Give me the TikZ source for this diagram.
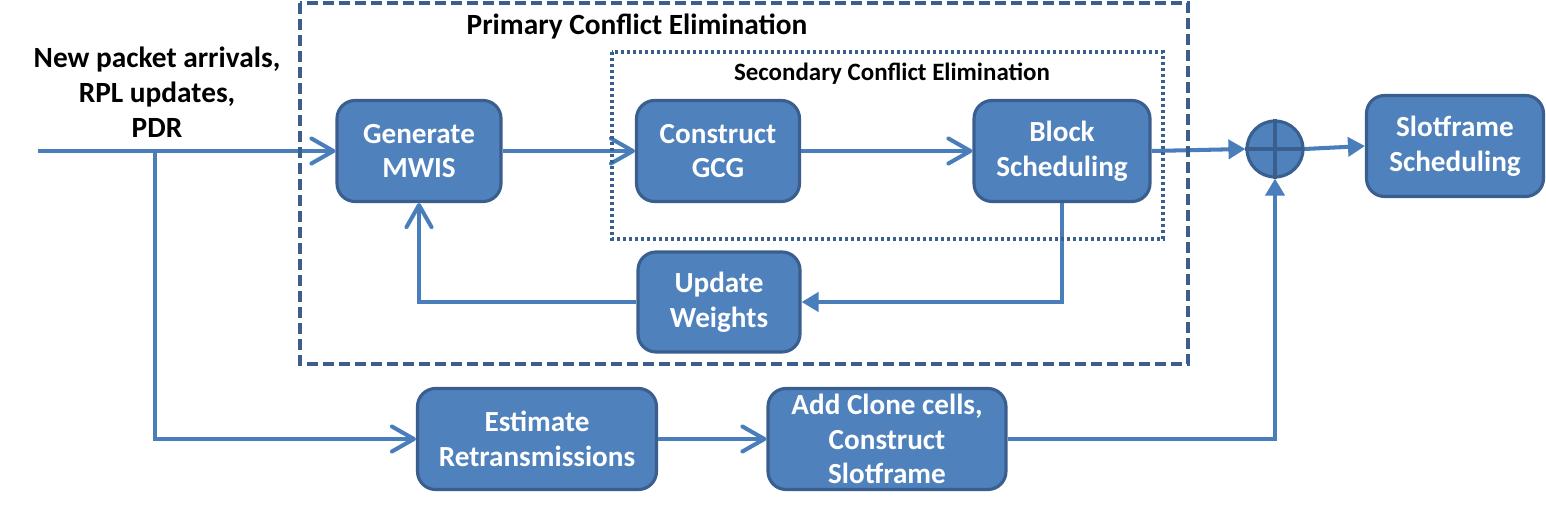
\documentclass[tikz,border=0pt]{standalone}
\usepackage{fontspec}
\setmainfont{Carlito}
\usetikzlibrary{arrows.meta}
\definecolor{boxfill}{HTML}{4F81BD}
\definecolor{boxedge}{HTML}{3A5F8F}
\definecolor{flow}{HTML}{4A7EBB}
\tikzset{
  block/.style={draw=boxedge,line width=1.8pt,fill=boxfill,rounded corners=0.36cm,
    text=white,font=\bfseries\fontsize{16.6}{19.8}\selectfont,align=center,
    minimum height=2.02cm,inner sep=1pt},
  flowline/.style={draw=flow,line width=2.3pt},
  openarr/.style={flowline,-{Straight Barb[length=4.4mm,width=5mm,round]}},
  fillarr/.style={flowline,-{Triangle[length=3.4mm,width=3.8mm]}},
  label/.style={font=\bfseries\fontsize{16.7}{19.8}\selectfont,align=center},
  frame/.style={draw=boxedge,line width=2.2pt}
}
\begin{document}
\begin{tikzpicture}[x=0.02cm,y=-0.02cm]
\useasboundingbox (0,0) rectangle (1546,509);
% boxes
\node[block,minimum width=3.28cm] (mwis) at (419,151) {Generate\\MWIS};
\node[block,minimum width=3.26cm] (gcg) at (718,151) {Construct\\GCG};
\node[block,minimum width=3.52cm] (blk) at (1062,151) {Block\\Scheduling};
\node[block,minimum width=3.24cm,minimum height=2cm] (upd) at (719,302) {Update\\Weights};
\node[block,minimum width=4.78cm] (est) at (537,439) {Estimate\\Retransmissions};
\node[block,minimum width=4.76cm,inner sep=0pt] (add) at (887,439) {Add Clone cells,\\Construct\\Slotframe};
\node[block,minimum width=3.54cm] (slot) at (1455,146) {Slotframe\\Scheduling};
\node[circle,draw=boxedge,line width=1.8pt,fill=boxfill,minimum size=1.12cm] (sum) at (1275,149) {};
\draw[boxedge,line width=2.2pt] (sum.north)--(sum.south) (sum.west)--(sum.east);
% texts
\node[label] (inp) at (157,92) {New packet arrivals,\\RPL updates,\\PDR};
\node[label] (prim) at (637,26) {Primary Conflict Elimination};
\node[font=\bfseries\fontsize{14.2}{16}\selectfont] (sec) at (892,74) {Secondary Conflict Elimination};
% flows
\coordinate (start) at (38,151);
\coordinate (split) at (155,151);
\draw[openarr] (start) -- (mwis);
\draw[openarr] (split) |- (est.west);
\draw[openarr] (mwis) -- (gcg);
\draw[openarr] (gcg) -- (blk);
\draw[fillarr] (blk.south) |- (upd.east);
\draw[openarr] (upd.west) -| (mwis.south);
\draw[openarr] (est) -- (add);
\draw[fillarr] (add.east) -| (sum.south);
\draw[fillarr] (blk.east) -- (sum.west);
\draw[fillarr] (sum.east) -- (slot.west);
% frames
\draw[frame,dash pattern=on 0.22cm off 0.1cm] (300,3) rectangle (1188,364);
\draw[frame,dash pattern=on 0.06cm off 0.06cm] (612,52) rectangle (1163,239);
\end{tikzpicture}
\end{document}
